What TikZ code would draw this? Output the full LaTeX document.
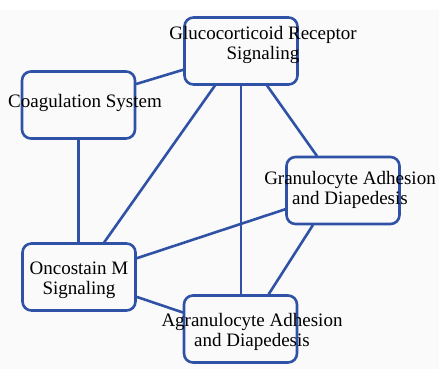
\documentclass[tikz,border=0pt]{standalone}
\usepackage{fontspec}
\setmainfont{Liberation Serif}
\usepackage{tikz}
\definecolor{myblue}{RGB}{48,82,166}
\tikzset{>=latex}

\begin{document}
\begin{tikzpicture}[x=1pt, y=-1pt,
                line cap=round, line join=round,
                box/.style={draw=myblue, line width=2.6pt, rounded corners=9pt,
                            minimum width=113pt, minimum height=67pt, inner sep=0pt},
                txt/.style={align=center, font=\fontsize{19}{20}\selectfont, inner sep=0pt},
                link/.style={myblue, line width=2.6pt}]
                % canvas
                \useasboundingbox (0,0) rectangle (439,369);
                \fill[black!2] (0,10) rectangle (439,369);

                % boxes
                \node[box] (glu)  at (241,51)    {};
                \node[box] (coag) at (78.5,105)  {};
                \node[box] (gran) at (343,190.5) {};
                \node[box] (onco) at (79,277)    {};
                \node[box] (agr)  at (240.5,329) {};

                % connectors (drawn under the texts)
                \draw[link] (glu.198)   -- (coag.20);
                \draw[link] (glu.233)   -- (onco.54);
                \draw[link] (glu.south) -- (glu.south |- agr.north);
                \draw[link] (glu.307)   -- (gran.127);
                \draw[link] (coag.south) -- (coag.south |- onco.north);
                \draw[link] (onco.18)   -- (gran.198);
                \draw[link] (onco.341)  -- (agr.164);
                \draw[link] (gran.229)  -- (agr.51);

                % labels, slightly off the box centres as in the original
                \node[txt] (glu-txt)  at (263,45)    {Glucocorticoid Receptor\\Signaling};
                \node[txt] (coag-txt) at (85,103)    {Coagulation System};
                \node[txt] (gran-txt) at (350,189.5) {Granulocyte Adhesion\\and Diapedesis};
                \node[txt] (onco-txt) at (79,280)    {Oncostain M\\Signaling};
                \node[txt] (agr-txt)  at (252,332)   {Agranulocyte Adhesion\\and Diapedesis};
\end{tikzpicture}
\end{document}
